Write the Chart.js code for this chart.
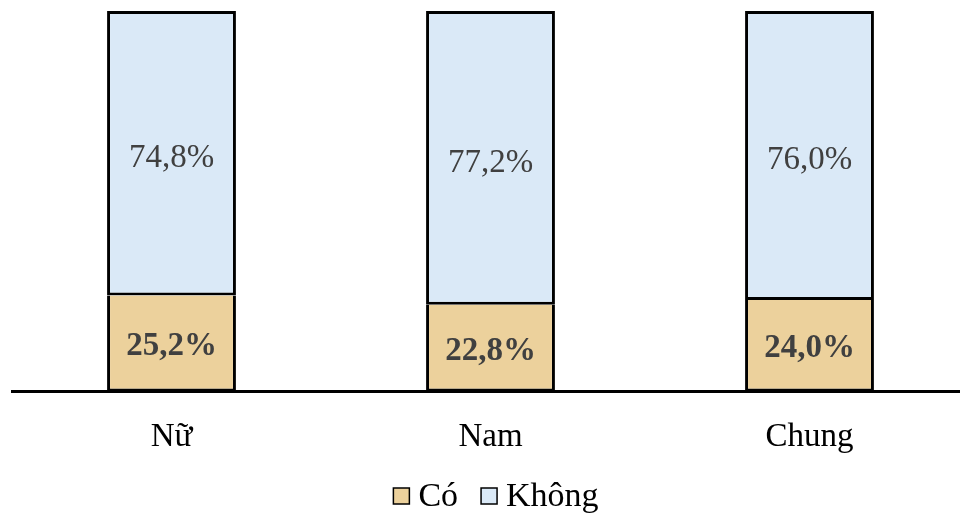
<!DOCTYPE html>
<html lang="vi">
<head>
<meta charset="utf-8">
<script src="https://cdn.jsdelivr.net/npm/chart.js@4.4.1/dist/chart.umd.min.js"></script>
<style>
  html, body { margin: 0; padding: 0; background: #fff; overflow: hidden; }
  #wrap { width: 970px; height: 515px; }
</style>
</head>
<body>
<div id="wrap"><canvas id="chart" width="970" height="515"></canvas></div>
<script>
const categories = ["Nữ", "Nam", "Chung"];
const coValues = [25.2, 22.8, 24.0];
const khongValues = [74.8, 77.2, 76.0];

const COLORS = {
  tan: "#ECD19C",
  blue: "#DAE9F7",
  ink: "#404040",
  line: "#000000",
};
const SERIF = "'Liberation Serif', 'Times New Roman', serif";

function fmt(v) {
  return v.toFixed(1).replace(".", ",") + "%";
}

// writes each segment's value in the middle of its bar
const segmentLabels = {
  id: "segmentLabels",
  afterDatasetsDraw(chart) {
    const ctx = chart.ctx;
    ctx.save();
    ctx.textAlign = "center";
    ctx.textBaseline = "middle";
    ctx.fillStyle = COLORS.ink;
    chart.data.datasets.forEach((ds, i) => {
      const meta = chart.getDatasetMeta(i);
      ctx.font = (i === 0 ? "bold " : "") + "33px " + SERIF;
      meta.data.forEach((bar, j) => {
        const y = (bar.y + bar.base) / 2;
        ctx.fillText(fmt(ds.data[j]), bar.x, y + (i === 0 ? 3 : 5));
      });
    });
    ctx.restore();
  },
};

// compact legend row under the axis labels: small square, then the name
const bottomLegend = {
  id: "bottomLegend",
  afterDraw(chart) {
    const ctx = chart.ctx;
    const box = 16, gap = 9, itemGap = 23;
    const y = chart.height - 19;
    ctx.save();
    ctx.font = "34px " + SERIF;
    ctx.textBaseline = "middle";
    const items = chart.data.datasets.map((ds) => ({
      text: ds.label,
      fill: ds.backgroundColor,
      w: ctx.measureText(ds.label).width,
    }));
    const total = items.reduce((s, it) => s + box + gap + it.w, 0) + itemGap * (items.length - 1);
    let x = chart.width / 2 + 11 - total / 2;
    items.forEach((it) => {
      ctx.fillStyle = it.fill;
      ctx.fillRect(x, y - box / 2, box, box);
      ctx.strokeStyle = COLORS.line;
      ctx.lineWidth = 1.5;
      ctx.strokeRect(x, y - box / 2, box, box);
      ctx.fillStyle = "#000";
      ctx.fillText(it.text, x + box + gap, y + 1);
      x += box + gap + it.w + itemGap;
    });
    ctx.restore();
  },
};

new Chart(document.getElementById("chart"), {
  type: "bar",
  data: {
    labels: categories,
    datasets: [
      {
        label: "Có",
        data: coValues,
        backgroundColor: COLORS.tan,
        borderColor: COLORS.line,
        // the upper segment supplies the dividing line
        borderWidth: { top: 0, left: 3, right: 3, bottom: 3 },
        borderSkipped: false,
      },
      {
        label: "Không",
        data: khongValues,
        backgroundColor: COLORS.blue,
        borderColor: COLORS.line,
        borderWidth: 3,
        borderSkipped: false,
      },
    ],
  },
  options: {
    responsive: false,
    animation: false,
    layout: { padding: { left: 12, right: 1, top: 11, bottom: 40 } },
    datasets: { bar: { barPercentage: 1, categoryPercentage: 0.404 } },
    scales: {
      x: {
        stacked: true,
        grid: { display: false },
        border: { display: true, color: COLORS.line, width: 3 },
        ticks: { color: "#000", font: { family: SERIF, size: 33 }, padding: 18 },
      },
      y: {
        stacked: true,
        min: 0,
        max: 100,
        display: false,
      },
    },
    plugins: {
      legend: { display: false },
      tooltip: { enabled: false },
    },
  },
  plugins: [segmentLabels, bottomLegend],
});
</script>
</body>
</html>
